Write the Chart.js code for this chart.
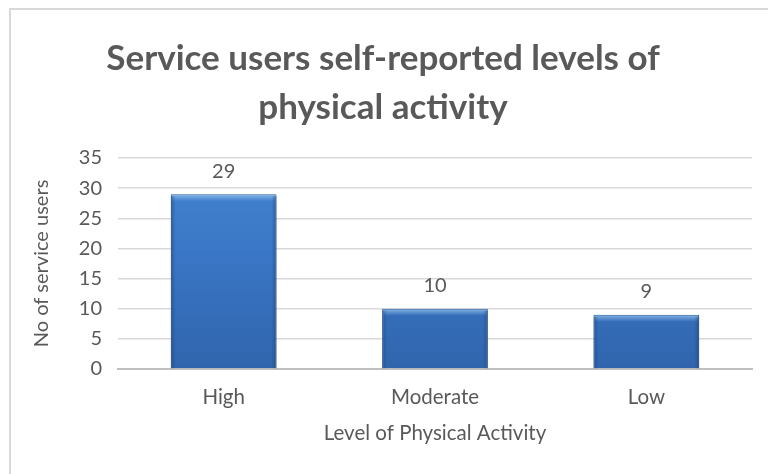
<!DOCTYPE html>
<html>
<head>
<meta charset="utf-8">
<script src="https://cdn.jsdelivr.net/npm/chart.js@4"></script>
<style>
  html, body { margin: 0; padding: 0; background: #fff; }
  #wrap { position: relative; width: 768px; height: 474px; }
  #frame { position: absolute; left: 9px; top: 8px; width: 800px; height: 500px;
           border-left: 2px solid #d9d9d9; border-top: 2px solid #d9d9d9; }
  canvas { position: absolute; left: 0; top: 0; }
</style>
</head>
<body>
<div id="wrap">
  <div id="frame"></div>
  <canvas id="activityChart" width="768" height="474"></canvas>
</div>
<script>
// activity levels reported by service users
const levels = ['High', 'Moderate', 'Low'];
const userCounts = [29, 10, 9];
const yTicks = [0, 5, 10, 15, 20, 25, 30, 35];

const textColor = '#595959';
const fontFamily = 'Lato, "Open Sans", sans-serif';

// bevel shading on the bars, then the value above each one
const barDecor = {
  id: 'barDecor',
  afterDatasetsDraw(chart){
    const ctx = chart.ctx;
    const meta = chart.getDatasetMeta(0);
    ctx.save();
    meta.data.forEach(function(bar){
      const left = bar.x - bar.width / 2, right = bar.x + bar.width / 2;
      const top = bar.y, bottom = bar.base;
      // light top edge
      let g = ctx.createLinearGradient(0, top, 0, top + 7);
      g.addColorStop(0, 'rgba(150,195,240,0.85)');
      g.addColorStop(1, 'rgba(150,195,240,0)');
      ctx.fillStyle = g;
      ctx.fillRect(left + 1, top + 1, bar.width - 2, 7);
      // darker sides
      g = ctx.createLinearGradient(left, 0, left + 5, 0);
      g.addColorStop(0, 'rgba(25,60,110,0.45)');
      g.addColorStop(1, 'rgba(25,60,110,0)');
      ctx.fillStyle = g;
      ctx.fillRect(left, top + 2, 5, bottom - top - 2);
      g = ctx.createLinearGradient(right, 0, right - 5, 0);
      g.addColorStop(0, 'rgba(25,60,110,0.5)');
      g.addColorStop(1, 'rgba(25,60,110,0)');
      ctx.fillStyle = g;
      ctx.fillRect(right - 5, top + 2, 5, bottom - top - 2);
    });
    ctx.fillStyle = textColor;
    ctx.font = '20px ' + fontFamily;
    ctx.textAlign = 'center';
    ctx.textBaseline = 'middle';
    meta.data.forEach(function(bar, i){
      ctx.fillText(String(userCounts[i]), bar.x, bar.y - 23);
    });
    ctx.restore();
  }
};

function barFill(c){
  const area = c.chart.chartArea;
  if(!area) return '#3a78c8';
  const g = c.chart.ctx.createLinearGradient(0, area.top, 0, area.bottom);
  g.addColorStop(0, '#4485d2');
  g.addColorStop(0.5, '#3975c4');
  g.addColorStop(1, '#3065ac');
  return g;
}

new Chart(document.getElementById('activityChart'), {
  type: 'bar',
  data: {
    labels: levels,
    datasets: [{
      data: userCounts,
      backgroundColor: barFill,
      borderColor: '#2b5d9f',
      borderWidth: 1,
      barPercentage: 0.5,
      categoryPercentage: 1
    }]
  },
  plugins: [barDecor],
  options: {
    responsive: false,
    animation: false,
    layout: { padding: { left: 14, right: 16, top: 8, bottom: 24 } },
    plugins: {
      legend: { display: false },
      tooltip: { enabled: false },
      title: {
        display: true,
        text: ['Service users self-reported levels of', 'physical activity'],
        color: textColor,
        font: { family: fontFamily, size: 35, weight: 'bold', lineHeight: 1.4 },
        padding: { top: 26, bottom: 26 }
      }
    },
    scales: {
      x: {
        grid: { display: false },
        border: { color: '#bfbfbf', width: 2 },
        ticks: { color: textColor, font: { family: fontFamily, size: 20.5 }, padding: 8 },
        title: {
          display: true, text: 'Level of Physical Activity', color: textColor,
          font: { family: fontFamily, size: 20.5 }, padding: { top: 2, bottom: 4 }
        },
        afterFit(s){ s.height = 81; }
      },
      y: {
        min: 0, max: 35,
        afterBuildTicks(s){ s.ticks = yTicks.map(v => ({ value: v })); },
        grid: { color: '#d9d9d9', lineWidth: 1.5, drawTicks: false },
        border: { display: false },
        ticks: { color: textColor, font: { family: fontFamily, size: 20 }, padding: 16 },
        title: {
          display: true, text: 'No of service users', color: textColor,
          font: { family: fontFamily, size: 20 }, padding: { top: 16, bottom: 0 }
        },
        afterFit(s){ s.width = 104; }
      }
    }
  }
});
</script>
</body>
</html>
